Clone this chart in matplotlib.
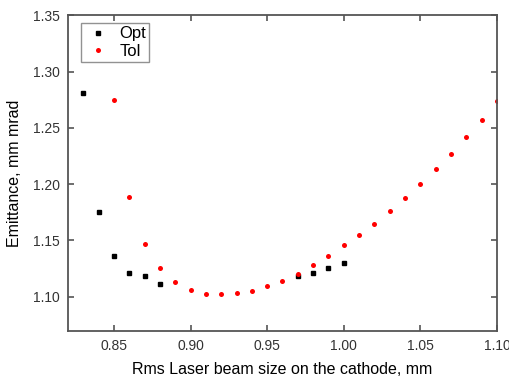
import numpy as np
import matplotlib.pyplot as plt

plt.rcParams['font.family'] = ['Liberation Sans', 'DejaVu Sans']

# Opt data (black squares)
x_opt = [0.83, 0.84, 0.85, 0.86, 0.87, 0.88, 0.97, 0.98, 0.99, 1.00]
y_opt = [1.281, 1.1755, 1.136, 1.121, 1.1185, 1.1113, 1.1184, 1.1213, 1.1252, 1.1297]

# Tol data (red circles)
x_tol = [0.85, 0.86, 0.87, 0.88, 0.89, 0.90, 0.91, 0.92, 0.93, 0.94,
         0.95, 0.96, 0.97, 0.98, 0.99, 1.00, 1.01, 1.02, 1.03, 1.04,
         1.05, 1.06, 1.07, 1.08, 1.09, 1.10]
y_tol = [1.2747, 1.1883, 1.1471, 1.1255, 1.1133, 1.1062, 1.1021, 1.1021, 1.1036, 1.1053,
         1.1098, 1.1142, 1.1202, 1.1279, 1.1364, 1.1456, 1.1545, 1.1648, 1.1764, 1.1879,
         1.2001, 1.2131, 1.2270, 1.2416, 1.2569, 1.2740]

xticks = [0.85, 0.90, 0.95, 1.00, 1.05, 1.10]
yticks = [1.10, 1.15, 1.20, 1.25, 1.30, 1.35]

fig = plt.figure(figsize=(5.1, 3.81), dpi=100)
ax = fig.add_axes([0.1333, 0.1312, 0.8412, 0.8288])

ax.plot(x_opt, y_opt, linestyle='none', marker='s', color='black', markersize=3, label='Opt')
ax.plot(x_tol, y_tol, linestyle='none', marker='o', color='red', markersize=3.6,
        markeredgewidth=0, label='Tol')

ax.set_xlim(0.82, 1.10)
ax.set_ylim(1.0695, 1.35)
ax.set_xticks(xticks)
ax.set_yticks(yticks)
ax.set_xticklabels([f"{v:.2f}" for v in xticks])
ax.set_yticklabels([f"{v:.2f}" for v in yticks])

for s in ax.spines.values():
    s.set_color('#555555')
    s.set_linewidth(1.3)
ax.tick_params(direction='in', length=4, width=1.2, color='#555555',
               top=True, right=True, labelsize=10, labelcolor='#333333', pad=6)

ax.set_xlabel("Rms Laser beam size on the cathode, mm", fontsize=11.5, labelpad=6)
ax.set_ylabel("Emittance, mm mrad", fontsize=11.5, labelpad=8)

leg = ax.legend(loc='upper left', bbox_to_anchor=(0.03, 0.975), fontsize=12,
                frameon=True, fancybox=False, edgecolor='#777777',
                borderpad=0.2, handletextpad=0.4, labelspacing=0.15,
                handlelength=1.7, borderaxespad=0)
leg.get_frame().set_linewidth(1.0)

plt.savefig("out.png", dpi=100)
